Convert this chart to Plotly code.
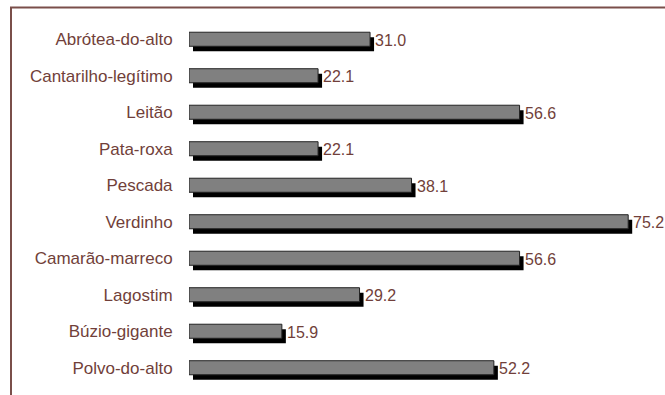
import plotly.graph_objects as go

# Species and their values, top to bottom
species = [
    "Abrótea-do-alto", "Cantarilho-legítimo", "Leitão", "Pata-roxa", "Pescada",
    "Verdinho", "Camarão-marreco", "Lagostim", "Búzio-gigante", "Polvo-do-alto",
]
values = [31.0, 22.1, 56.6, 22.1, 38.1, 75.2, 56.6, 29.2, 15.9, 52.2]
value_labels = [f"{v:.1f}" for v in values]

W, H = 665, 395
M_L, M_R, M_T, M_B = 189, 0, 21, 9
X_MAX = 81.5

plot_w = W - M_L - M_R
plot_h = H - M_T - M_B
px_per_unit = plot_w / X_MAX
band_px = plot_h / len(species)

BAR_W = 0.385
SHIFT_X = 4 / px_per_unit      # drop shadow offset, data units
SHIFT_Y = 5 / band_px          # drop shadow offset, category units

TEXT_COLOR = "#713f3a"
FONT = "Liberation Sans, Arial, sans-serif"

fig = go.Figure()

# Black drop shadow behind each bar
fig.add_trace(go.Bar(
    y=species, x=values, base=[SHIFT_X] * len(values), orientation="h",
    width=BAR_W, offset=-BAR_W / 2 + SHIFT_Y,
    marker=dict(color="#000000", line=dict(width=0)),
    hoverinfo="skip", showlegend=False,
))

# Grey bars
fig.add_trace(go.Bar(
    y=species, x=values, orientation="h",
    width=BAR_W, offset=-BAR_W / 2,
    marker=dict(color="#808080", line=dict(color="#222222", width=1)),
    showlegend=False,
))

# Value labels just past the end of each bar
for name, v, lab in zip(species, values, value_labels):
    fig.add_annotation(
        x=v, y=name, text=lab, showarrow=False,
        xanchor="left", yanchor="middle", xshift=3, yshift=-1,
        font=dict(color=TEXT_COLOR, size=16, family=FONT),
    )

# Frame lines along the top and left of the chart
fx = (11 - M_L) / plot_w
fy_top = (H - M_B - 7.5) / plot_h
fy_bot = (H - M_B - H - 5) / plot_h
fig.add_shape(
    type="path", xref="paper", yref="paper",
    path=f"M {fx} {fy_bot} L {fx} {fy_top} L {1.05} {fy_top}",
    line=dict(color="#7a4f4a", width=2),
)

fig.update_layout(
    width=W, height=H,
    margin=dict(l=M_L, r=M_R, t=M_T, b=M_B, autoexpand=False),
    barmode="overlay",
    paper_bgcolor="white", plot_bgcolor="white",
    font=dict(family=FONT, color=TEXT_COLOR, size=17),
    xaxis=dict(range=[0, X_MAX], visible=False, fixedrange=True),
    yaxis=dict(
        autorange="reversed", showgrid=False, zeroline=False, showline=False,
        ticks="outside", ticklen=12, tickcolor="rgba(0,0,0,0)",
        tickfont=dict(size=17, color=TEXT_COLOR, family=FONT),
        fixedrange=True,
    ),
)

fig.write_html("out.html")
